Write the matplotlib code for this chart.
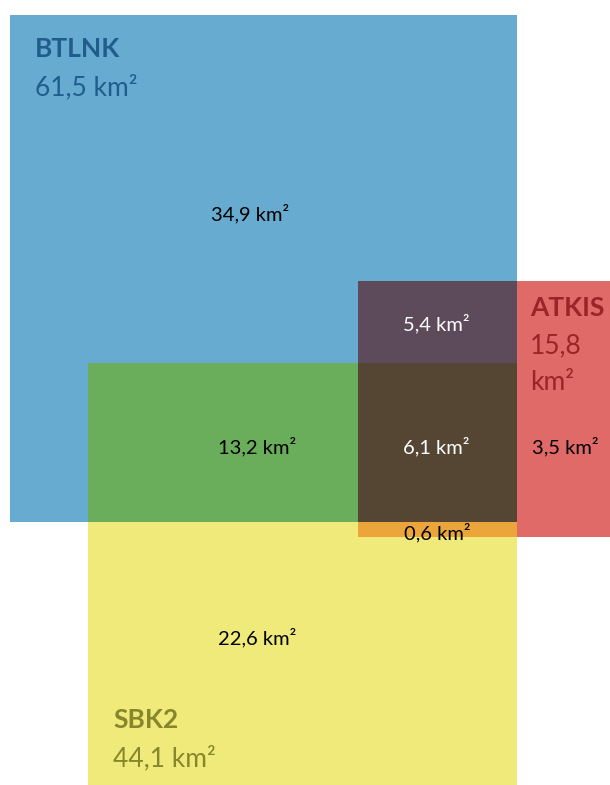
import matplotlib.pyplot as plt
from matplotlib.patches import Rectangle

plt.rcParams['font.family'] = ['Lato', 'DejaVu Sans']

# datasets and their total area
sets = ['BTLNK', 'ATKIS', 'SBK2']
totals = [['61,5 km²'], ['15,8', 'km²'], ['44,1 km²']]

# area of each region of the diagram (which sets it belongs to)
regions = [('BTLNK',), ('BTLNK', 'ATKIS'), ('BTLNK', 'SBK2'), ('BTLNK', 'ATKIS', 'SBK2'),
           ('ATKIS',), ('ATKIS', 'SBK2'), ('SBK2',)]
areas = ['34,9 km²', '5,4 km²', '13,2 km²', '6,1 km²', '3,5 km²', '0,6 km²', '22,6 km²']

# layout (pixel units, y going down)
box = {'BTLNK': (10, 15, 517, 522), 'ATKIS': (358, 281, 610, 537), 'SBK2': (88, 363, 517, 785)}
fill = {('BTLNK',): '#67abd0', ('ATKIS',): '#df6a68', ('SBK2',): '#f0ea7a',
        ('BTLNK', 'SBK2'): '#6aad5b', ('BTLNK', 'ATKIS'): '#5d4a5b',
        ('BTLNK', 'ATKIS', 'SBK2'): '#544632', ('ATKIS', 'SBK2'): '#eca53b'}
txtcol = {('BTLNK', 'ATKIS'): 'white', ('BTLNK', 'ATKIS', 'SBK2'): 'white'}
lblpos = {('BTLNK',): (250, 214), ('BTLNK', 'ATKIS'): (436, 324), ('BTLNK', 'SBK2'): (257, 447),
          ('BTLNK', 'ATKIS', 'SBK2'): (436, 447), ('ATKIS',): (565, 447),
          ('ATKIS', 'SBK2'): (437, 533), ('SBK2',): (257, 638)}
headcol = {'BTLNK': '#215d8c', 'ATKIS': '#9a2426', 'SBK2': '#87862c'}
headpos = {'BTLNK': (35, 49), 'ATKIS': (530, 308), 'SBK2': (113, 720)}


def inter(names):
    x0 = max(box[n][0] for n in names); y0 = max(box[n][1] for n in names)
    x1 = min(box[n][2] for n in names); y1 = min(box[n][3] for n in names)
    return x0, y0, x1, y1


fig = plt.figure(figsize=(6.1, 7.85), dpi=100)
ax = fig.add_axes([0, 0, 1, 1])
ax.set_xlim(0, 610)
ax.set_ylim(785, 0)
ax.axis('off')

# draw bigger sets first, then intersections on top
for r in sorted(regions, key=len):
    x0, y0, x1, y1 = inter(r)
    ax.add_patch(Rectangle((x0, y0), x1 - x0, y1 - y0, color=fill[r], lw=0, zorder=len(r)))

for r, a in zip(regions, areas):
    x, y = lblpos[r]
    ax.text(x, y, a, ha='center', va='center', fontsize=14.5,
            color=txtcol.get(r, 'black'), zorder=10)

for s, t in zip(sets, totals):
    x, y = headpos[s]
    ax.text(x, y, s, ha='left', va='center', fontsize=19, fontweight='bold',
            color=headcol[s], zorder=10)
    for i, line in enumerate(t):
        ax.text(x, y + 38 + 36 * i, line, ha='left', va='center', fontsize=19,
                color=headcol[s], zorder=10)

fig.savefig('out.png', dpi=100)
